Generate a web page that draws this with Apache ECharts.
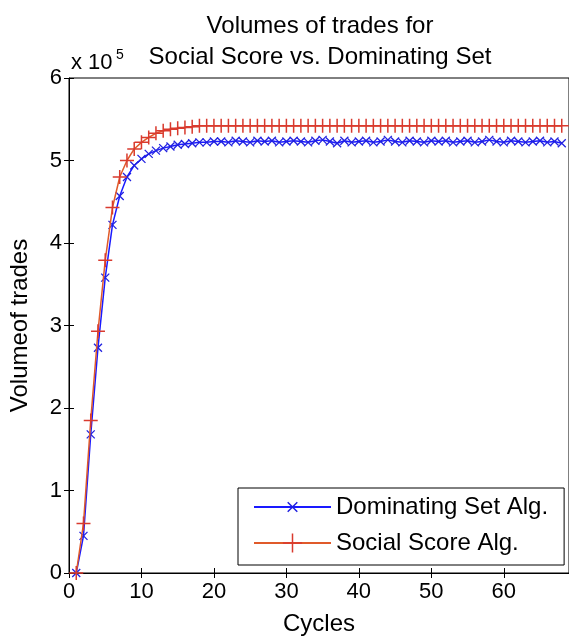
<!DOCTYPE html>
<html>
<head>
<meta charset="utf-8">
<script src="https://cdn.jsdelivr.net/npm/echarts@6/dist/echarts.min.js"></script>
<style>
html,body{margin:0;padding:0;background:#fff;}
#chart{width:569px;height:641px;}
</style>
</head>
<body>
<div id="chart"></div>
<script>
const cycles = [1,2,3,4,5,6,7,8,9,10,11,12,13,14,15,16,17,18,19,20,
  21,22,23,24,25,26,27,28,29,30,31,32,33,34,35,36,37,38,39,40,
  41,42,43,44,45,46,47,48,49,50,51,52,53,54,55,56,57,58,59,60,
  61,62,63,64,65,66,67,68];

const dominatingSet = [0,45000,168000,273000,358000,422000,457000,480000,494000,502000,
  508000,512000,515000,517000,519000,520000,521000,522000,522000,523000,
  523000,522000,524000,523000,522000,524000,523000,524000,522000,523000,
  524000,523000,522000,524000,525000,523000,521000,524000,522000,523000,
  524000,522000,523000,525000,523000,522000,524000,523000,522000,524000,
  523000,524000,522000,523000,524000,522000,523000,525000,523000,522000,
  524000,523000,522000,523000,524000,522000,523000,521000];

const socialScore = [0,60000,185000,293000,379000,443000,480000,500000,514000,522000,
  528000,533000,536000,538000,539000,540000,541000,542000,542000,542000,
  542000,542000,542000,542000,542000,542000,542000,542000,542000,542000,
  542000,542000,542000,542000,542000,542000,542000,542000,542000,542000,
  542000,542000,542000,542000,542000,542000,542000,542000,542000,542000,
  542000,542000,542000,542000,542000,542000,542000,542000,542000,542000,
  542000,542000,542000,542000,542000,542000,542000,542000];

const seriesNames = ['Dominating Set Alg.', 'Social Score Alg.'];
const titleLines = ['Volumes of trades for', 'Social Score vs. Dominating Set'];
const xTickValues = [0,10,20,30,40,50,60];
const yTickLabels = ['0','1','2','3','4','5','6'];

const FONT = 'Liberation Sans, Arial, Helvetica, sans-serif';
const crossPath = 'path://M-2,-2M2,2M-1,-1L1,1M1,-1L-1,1';
const plusPath = 'path://M0,-1L0,1M-1,0L1,0';

const chart = echarts.init(document.getElementById('chart'), null, {renderer:'canvas'});
chart.setOption({
  animation: false,
  backgroundColor: '#ffffff',
  textStyle: {fontFamily: FONT},
  grid: {left: 69, top: 78, width: 502, height: 497, show: true,
         borderColor: '#000', borderWidth: 1, backgroundColor: 'transparent'},
  xAxis: [{
    type: 'value', min: 0, max: 69, interval: 10,
    name: 'Cycles', nameLocation: 'middle', nameGap: 39,
    nameTextStyle: {fontSize: 24, color: '#000', fontFamily: FONT},
    axisLine: {show: true, lineStyle: {color: '#000', width: 1}},
    axisTick: {show: true, inside: true, length: 5, lineStyle: {color: '#000'}},
    axisLabel: {show: true, margin: 8, fontSize: 22, color: '#000', fontFamily: FONT,
      showMaxLabel: false,
      formatter: v => xTickValues.indexOf(v) >= 0 ? String(v) : ''},
    splitLine: {show: false}
  }, {
    type: 'value', min: 0, max: 69, interval: 10, position: 'top',
    axisLine: {show: false},
    axisTick: {show: true, inside: true, length: 5, lineStyle: {color: '#000'}},
    axisLabel: {show: false}, splitLine: {show: false}
  }],
  yAxis: [{
    type: 'value', min: 0, max: 600000, interval: 100000,
    name: 'Volumeof trades', nameLocation: 'middle', nameGap: 37,
    nameTextStyle: {fontSize: 24, color: '#000', fontFamily: FONT},
    axisLine: {show: true, lineStyle: {color: '#000', width: 1}},
    axisTick: {show: true, inside: true, length: 5, lineStyle: {color: '#000'}},
    axisLabel: {margin: 7, fontSize: 22, color: '#000', fontFamily: FONT,
      formatter: v => yTickLabels[Math.round(v / 100000)]},
    splitLine: {show: false}
  }, {
    type: 'value', min: 0, max: 600000, interval: 100000, position: 'right',
    axisLine: {show: false},
    axisTick: {show: true, inside: true, length: 5, lineStyle: {color: '#000'}},
    axisLabel: {show: false}, splitLine: {show: false}
  }],
  legend: {
    orient: 'vertical', left: 238, top: 488,
    padding: [6, 16, 9, 15],
    itemWidth: 77, itemHeight: 24, itemGap: 10,
    backgroundColor: '#fff', borderColor: '#000', borderWidth: 1, borderRadius: 0,
    selectedMode: false,
    textStyle: {fontSize: 24, color: '#000', fontFamily: FONT, lineHeight: 26},
    itemStyle: {borderWidth: 1.5},
    data: seriesNames
  },
  graphic: [
    {type: 'text', x: 320, y: 26.5, silent: true,
     style: {text: titleLines[0], fontSize: 24, fontFamily: FONT, fill: '#000', align: 'center', verticalAlign: 'middle'}},
    {type: 'text', x: 320, y: 57, silent: true,
     style: {text: titleLines[1], fontSize: 24, fontFamily: FONT, fill: '#000', align: 'center', verticalAlign: 'middle'}},
    {type: 'text', x: 71, y: 63, silent: true,
     style: {text: 'x 10', fontSize: 22, fontFamily: FONT, fill: '#000', align: 'left', verticalAlign: 'middle'}},
    {type: 'text', x: 116, y: 55, silent: true,
     style: {text: '5', fontSize: 14, fontFamily: FONT, fill: '#000', align: 'left', verticalAlign: 'middle'}}
  ],
  series: [{
    name: seriesNames[0], type: 'line',
    data: cycles.map((c, i) => [c, dominatingSet[i]]),
    symbol: crossPath, symbolSize: 16, showSymbol: true,
    lineStyle: {color: '#1a1aff', width: 1.5},
    itemStyle: {color: '#2020e0', borderColor: '#2020e0', borderWidth: 1.3},
    emphasis: {disabled: true}, z: 2
  }, {
    name: seriesNames[1], type: 'line',
    data: cycles.map((c, i) => [c, socialScore[i]]),
    symbol: plusPath, symbolSize: 14, showSymbol: true,
    lineStyle: {color: '#e05a2a', width: 1.5},
    itemStyle: {color: '#d93a2e', borderColor: '#d93a2e', borderWidth: 1.5},
    emphasis: {disabled: true}, z: 3
  }]
});
</script>
</body>
</html>
